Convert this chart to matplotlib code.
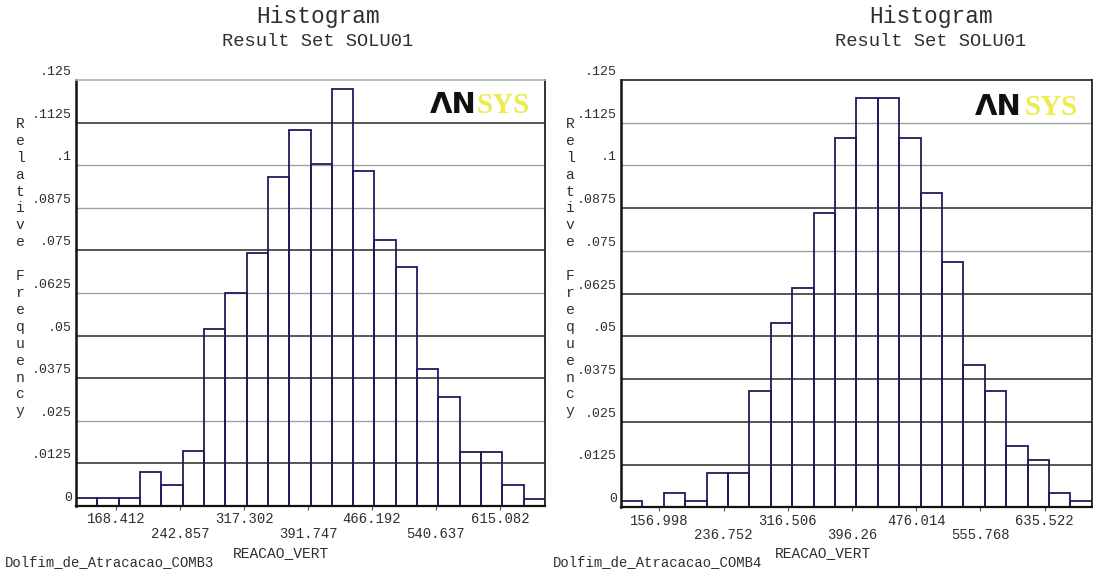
"""ANSYS style relative frequency histograms, COMB3 and COMB4."""
import matplotlib
matplotlib.use("Agg")
import matplotlib.pyplot as plt
import matplotlib.transforms as mtransforms
import numpy as np

# ── Data ──────────────────────────────────────────────────────────────────────
# COMB3: 22 equal bins starting at x0, width = label step / 3
comb3_x0 = 121.6
comb3_bin = 24.815
comb3_freq = [0.0023, 0.0023, 0.0023, 0.0101, 0.0062, 0.0161, 0.0518, 0.0625,
              0.0741, 0.0964, 0.1103, 0.1003, 0.1223, 0.0983, 0.0781, 0.0700,
              0.0401, 0.0321, 0.0159, 0.0159, 0.0061, 0.0021]
comb3_ticks = [168.412, 242.857, 317.302, 391.747, 466.192, 540.637, 615.082]

# COMB4
comb4_x0 = 109.2
comb4_bin = 26.585
comb4_freq = [0.0018, 0.0, 0.0043, 0.0018, 0.0100, 0.0100, 0.0341, 0.0540,
              0.0641, 0.0862, 0.1080, 0.1197, 0.1197, 0.1080, 0.0920, 0.0717,
              0.0416, 0.0341, 0.0180, 0.0138, 0.0041, 0.0018]
comb4_ticks = [156.998, 236.752, 316.506, 396.26, 476.014, 555.768, 635.522]

y_levels = [0, 0.0125, 0.025, 0.0375, 0.05, 0.0625, 0.075, 0.0875, 0.1, 0.1125, 0.125]
y_labels = ["0", ".0125", ".025", ".0375", ".05", ".0625", ".075", ".0875", ".1", ".1125", ".125"]

# ── Style ─────────────────────────────────────────────────────────────────────
MONO = "Liberation Mono"
TXT = "#2e2e2e"
BAR = "#1c1c5c"
DARK = "#3a3a3a"
LIGHT = "#a0a0a0"

W, H = 1093, 573
fig = plt.figure(figsize=(W / 100, H / 100), dpi=100, facecolor="white")


def fx(x):
    return x / W


def fy(y):
    return 1 - y / H


def draw_panel(rect, x0, binw, freq, ticks, grid_dark, top_color):
    ax = fig.add_axes(rect)
    edges = x0 + binw * np.arange(len(freq) + 1)
    ax.set_xlim(edges[0], edges[-1])
    ax.set_ylim(0, 0.125)

    for lev, dark in zip(y_levels[1:-1], grid_dark):
        ax.axhline(lev, color=DARK if dark else LIGHT,
                   lw=1.2 if dark else 1.0, zorder=1)

    ax.bar(edges[:-1], freq, width=binw, align="edge", fill=False,
           edgecolor=BAR, linewidth=1.3, zorder=3)

    for side in ["left", "bottom", "right", "top"]:
        ax.spines[side].set_zorder(4)
    ax.spines["left"].set_linewidth(1.8)
    ax.spines["left"].set_color("#111111")
    ax.spines["bottom"].set_linewidth(1.6)
    ax.spines["bottom"].set_color("#111111")
    ax.spines["right"].set_linewidth(1.3)
    ax.spines["right"].set_color("#222222")
    ax.spines["top"].set_linewidth(1.2)
    ax.spines["top"].set_color(top_color)

    ax.set_yticks(y_levels)
    ax.set_yticklabels(y_labels, fontfamily=MONO, fontsize=9.5, color=TXT)
    ax.tick_params(axis="y", length=0, pad=3)
    off = mtransforms.ScaledTranslation(0, 1.5 / 72, fig.dpi_scale_trans)
    for t in ax.get_yticklabels():
        t.set_va("bottom")
        t.set_transform(t.get_transform() + off)

    # two staggered rows of x labels
    ax.set_xticks(ticks[::2])
    ax.set_xticklabels([f"{v:g}" for v in ticks[::2]],
                       fontfamily=MONO, fontsize=10, color=TXT)
    ax.set_xticks(ticks[1::2], minor=True)
    ax.set_xticklabels([f"{v:g}" for v in ticks[1::2]], minor=True,
                       fontfamily=MONO, fontsize=10, color=TXT)
    ax.tick_params(axis="x", which="major", length=3, width=0.8,
                   color="#555555", pad=1.5)
    ax.tick_params(axis="x", which="minor", length=3, width=0.8,
                   color="#555555", pad=12)

    ax.set_xlabel("REACAO_VERT", fontfamily=MONO, fontsize=10.5, color=TXT)
    return ax


ax1 = draw_panel([fx(76), fy(506), 469 / W, 426 / H], comb3_x0, comb3_bin,
                 comb3_freq, comb3_ticks,
                 [True, False, True, True, False, True, False, False, True],
                 "#b0b0b0")
ax1.xaxis.set_label_coords((281 - 76) / 469, -(546 - 506) / 426)

ax2 = draw_panel([fx(621), fy(507.3), 470.7 / W, 427.3 / H], comb4_x0,
                 comb4_bin, comb4_freq, comb4_ticks,
                 [True, True, True, True, True, False, True, False, False],
                 "#222222")
ax2.xaxis.set_label_coords((823 - 621) / 470.7, -(546 - 507.3) / 427.3)

# ── Titles, captions ──────────────────────────────────────────────────────────
for cx in (318, 931):
    fig.text(fx(cx), fy(16), "Histogram", fontfamily=MONO, fontsize=16.5,
             color=TXT, ha="center", va="center")
    fig.text(fx(cx), fy(42), "Result Set SOLU01", fontfamily=MONO,
             fontsize=13.5, color=TXT, ha="center", va="center")

fig.text(fx(5), fy(562), "Dolfim_de_Atracacao_COMB3", fontfamily=MONO,
         fontsize=10, color=TXT, ha="left", va="center")
fig.text(fx(553), fy(562), "Dolfim_de_Atracacao_COMB4", fontfamily=MONO,
         fontsize=10, color=TXT, ha="left", va="center")

# vertical stacked y label
ylab = "Relative Frequency"
for lx in (20, 570):
    for i, ch in enumerate(ylab):
        if ch == " ":
            continue
        fig.text(fx(lx), fy(124 + i * 16.9), ch, fontfamily=MONO,
                 fontsize=10.5, color=TXT, ha="center", va="center")

# ANSYS logo
for ax_left, sys_left, base in ((430, 477, 113), (975, 1025, 115)):
    fig.text(fx(ax_left), fy(base), "\u039bN", fontfamily="DejaVu Sans",
             fontweight="bold", fontsize=21, color="#111111",
             ha="left", va="baseline")
    fig.text(fx(sys_left), fy(base), "SYS", fontfamily="Liberation Serif",
             fontweight="bold", fontsize=21, color="#ecec4c",
             ha="left", va="baseline")

fig.savefig("out.png", dpi=100, facecolor="white")
